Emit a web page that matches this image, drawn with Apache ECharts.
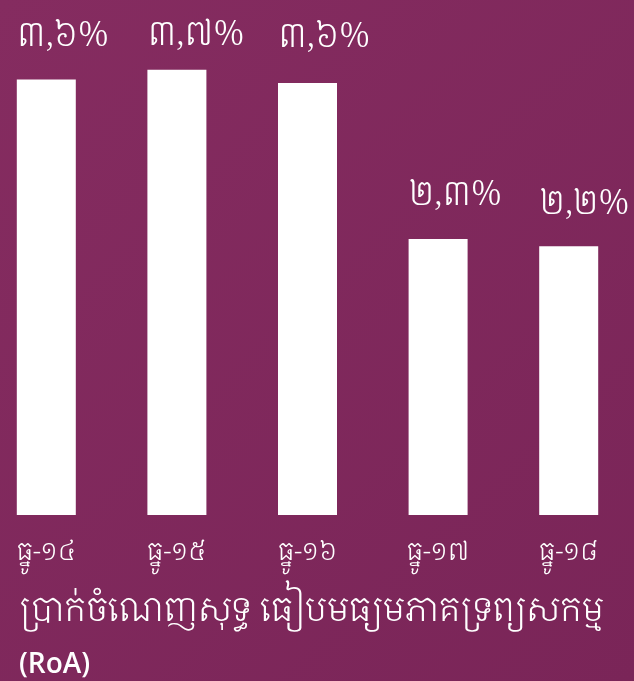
<!DOCTYPE html>
<html><head><meta charset="utf-8">
<script src="https://cdn.jsdelivr.net/npm/echarts@6/dist/echarts.min.js"></script>
<style>html,body{margin:0;padding:0;}#c{width:634px;height:681px;}</style>
</head><body><div id="c"></div>
<script>
const categories = ['ធ្នូ-១៤', 'ធ្នូ-១៥', 'ធ្នូ-១៦', 'ធ្នូ-១៧', 'ធ្នូ-១៨'];
const roaValues = [3.63, 3.71, 3.60, 2.30, 2.24];
const valueLabels = ['៣,៦%', '៣,៧%', '៣,៦%', '២,៣%', '២,២%'];
const titleText = 'ប្រាក់ចំណេញសុទ្ធ ធៀបមធ្យមភាគទ្រព្យសកម្ម';
const subtitleText = '(RoA)';

const khmerFont = '"Noto Serif Khmer","Khmer OS Battambang","Khmer OS","Noto Sans Khmer",serif';
const labelLift = [-43, -34, -46, -44, -42];

const chart = echarts.init(document.getElementById('c'));
chart.setOption({
  backgroundColor: new echarts.graphic.LinearGradient(0, 0, 1, 1, [
    {offset: 0, color: '#852c60'},
    {offset: 1, color: '#7a2558'}
  ]),
  title: {
    text: titleText,
    subtext: subtitleText,
    left: 14, top: 589,
    itemGap: 23,
    textStyle: {color: '#ffffff', fontSize: 34, fontWeight: 300, fontFamily: khmerFont},
    subtextStyle: {color: '#ffffff', fontSize: 28, fontWeight: 600, fontFamily: '"Open Sans",sans-serif'}
  },
  grid: {left: -19, right: 0, top: 35, bottom: 166, outerBoundsMode: 'none'},
  xAxis: {
    type: 'category', data: categories,
    axisLine: {show: false}, axisTick: {show: false},
    axisLabel: {color: '#ffffff', fontSize: 25, fontWeight: 300, margin: 25, fontFamily: khmerFont}
  },
  yAxis: {type: 'value', min: 0, max: 4, show: false, splitLine: {show: false}},
  series: [{
    type: 'bar', barWidth: 59,
    itemStyle: {color: '#ffffff'},
    data: roaValues.map((v, i) => ({
      value: v,
      label: {
        show: true, position: [0, labelLift[i]], align: 'left', verticalAlign: 'middle',
        formatter: valueLabels[i], color: '#ffffff', fontSize: 34, fontWeight: 300, fontFamily: khmerFont
      }
    }))
  }]
});
</script></body></html>
